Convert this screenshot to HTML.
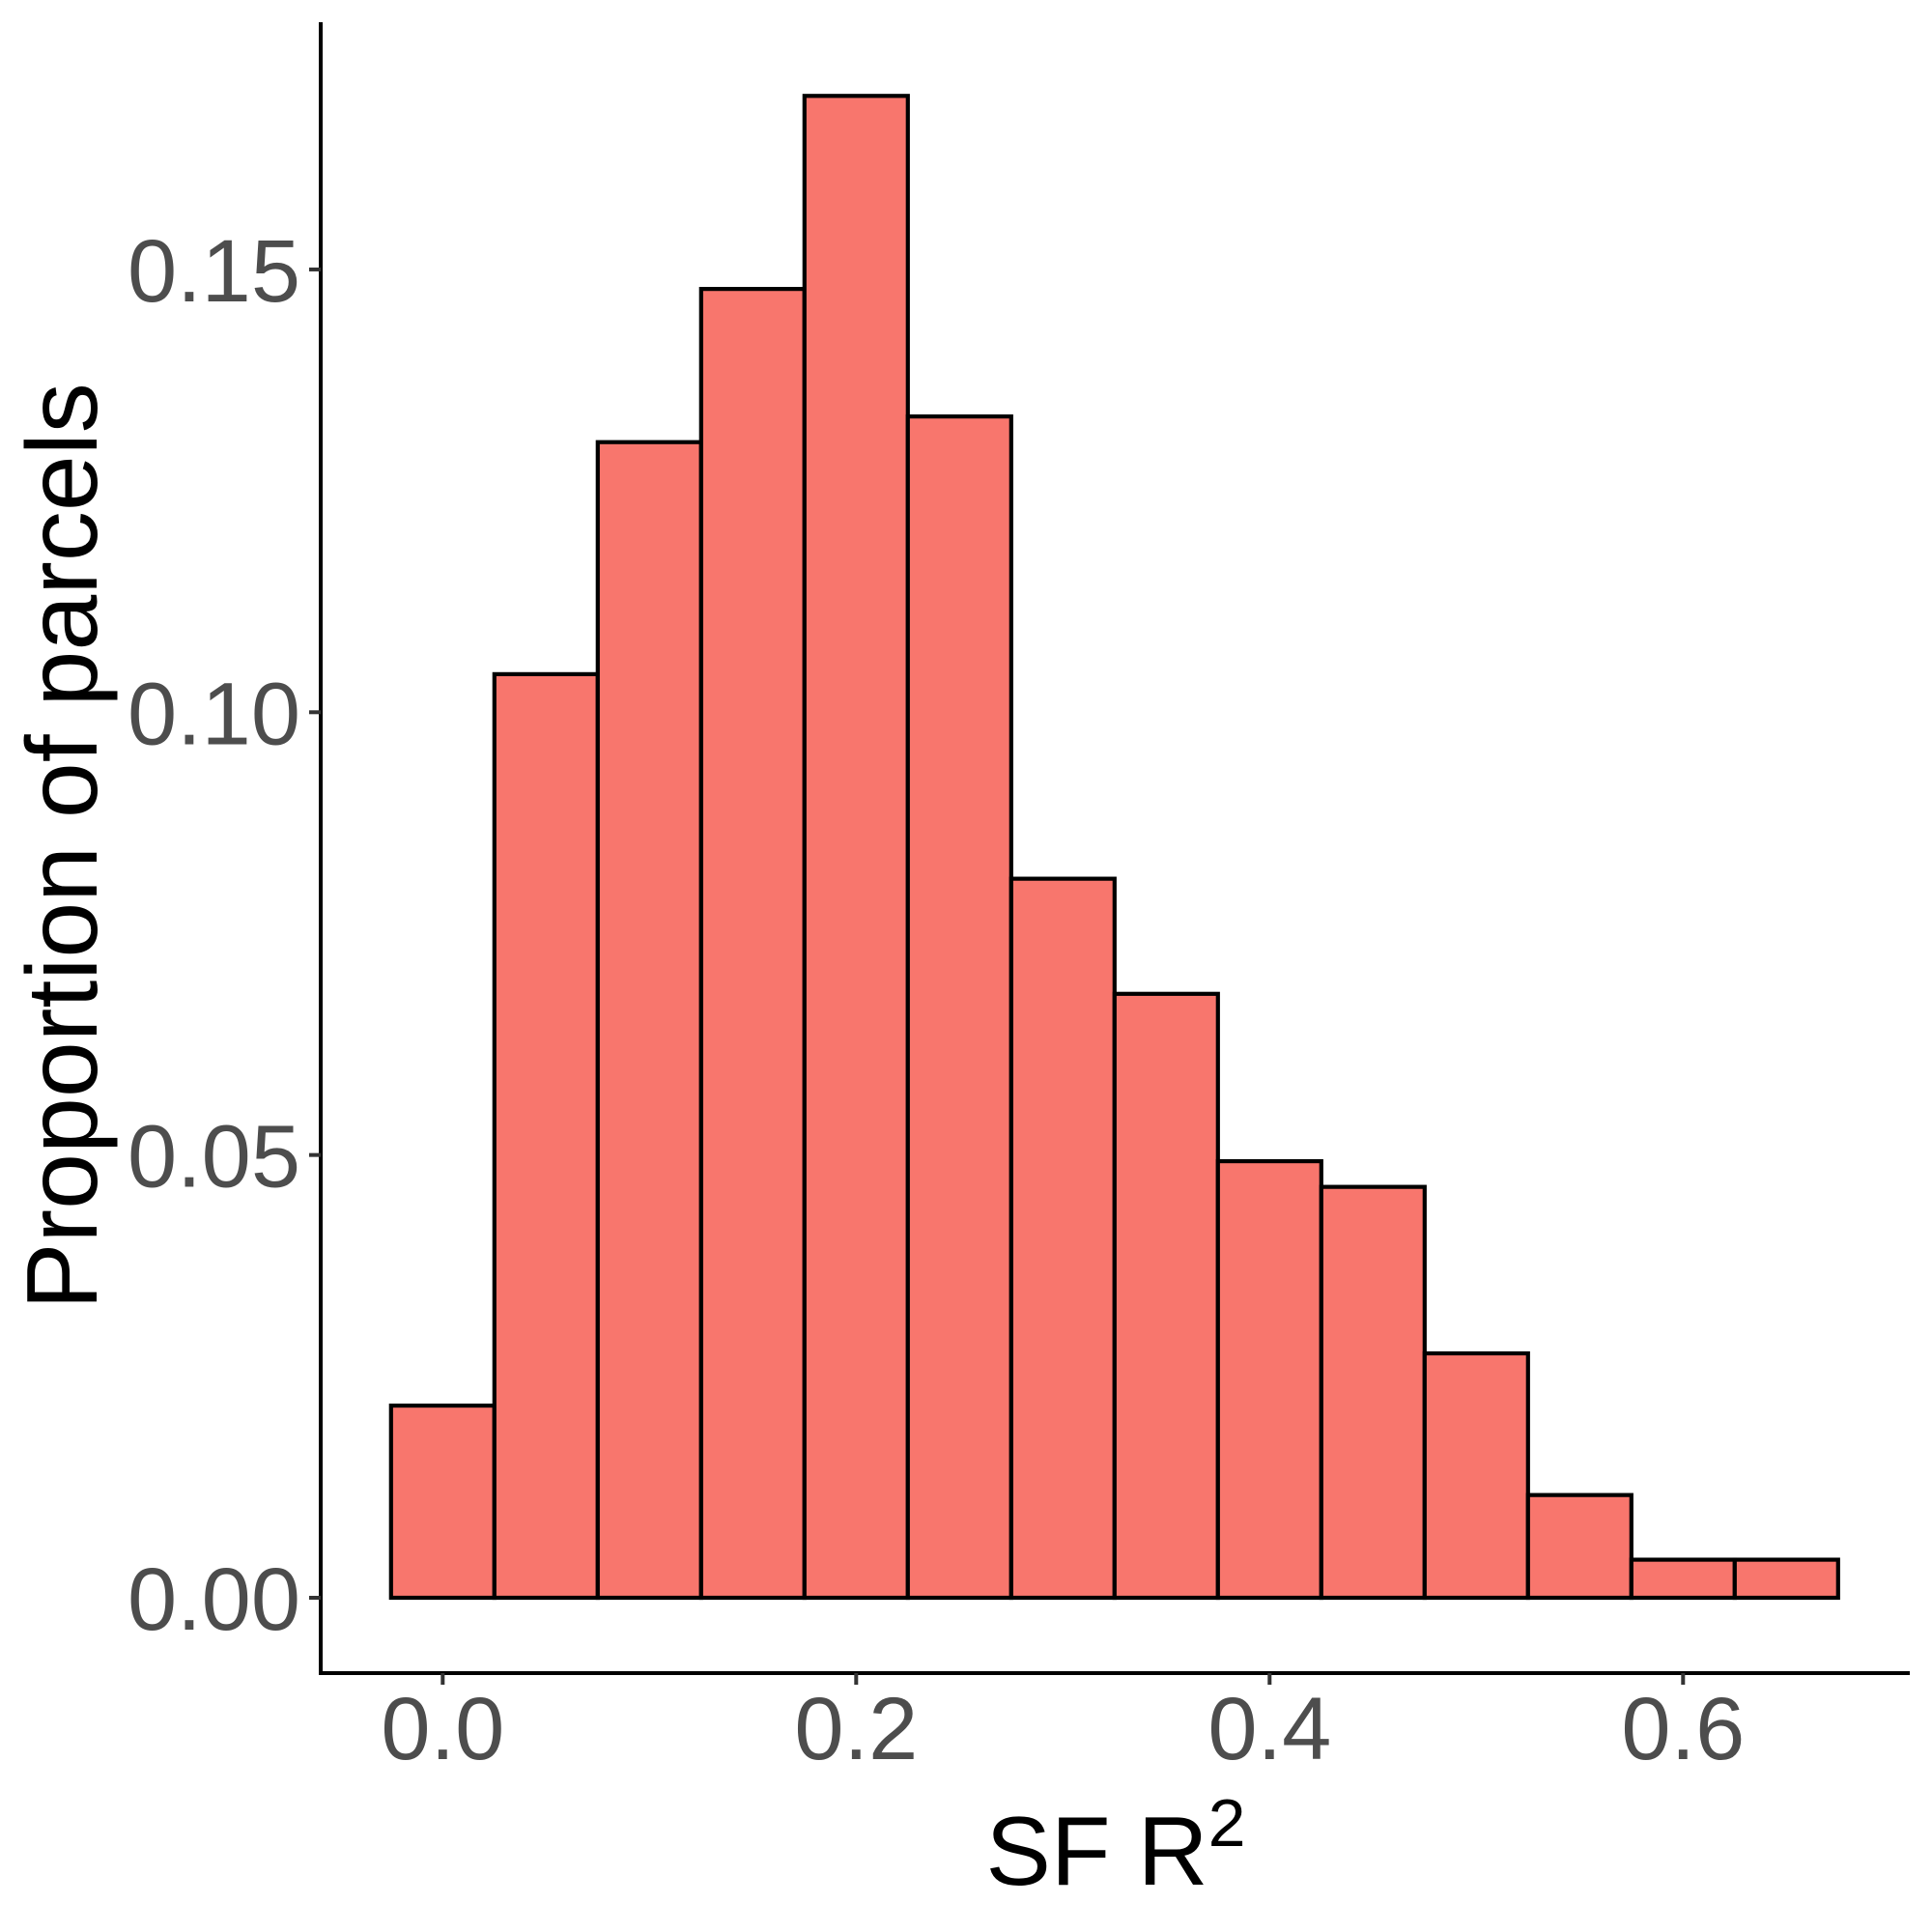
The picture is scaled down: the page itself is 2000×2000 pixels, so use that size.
<!DOCTYPE html>
<html><head><meta charset="utf-8"><style>
html,body{margin:0;padding:0;background:#fff;}
svg{display:block;font-family:"Liberation Sans",sans-serif;}
</style></head><body>
<svg id="chart" width="2000" height="2000" viewBox="0 0 2000 2000">
<g id="bars"></g>
<g id="axes"></g>
<text x="1155" y="1951" font-size="101" text-anchor="middle" fill="#000">SF R<tspan dy="-40" font-size="70">2</tspan></text>
<text transform="translate(100,876) rotate(-90)" font-size="104" text-anchor="middle" fill="#000">Proportion of parcels</text>
</svg>
<script>
const binStarts = [-0.025,0.025,0.075,0.125,0.175,0.225,0.275,0.325,0.375,0.425,0.475,0.525,0.575,0.625];
const binWidth = 0.05;
const proportions = [0.0217,0.1043,0.1305,0.1478,0.1696,0.1334,0.0812,0.0682,0.0493,0.0464,0.0276,0.0116,0.0043,0.0043];
const xTicks = [0.0,0.2,0.4,0.6];
const xTickLabels = ["0.0","0.2","0.4","0.6"];
const yTicks = [0,0.05,0.10,0.15];
const yTickLabels = ["0.00","0.05","0.10","0.15"];

const NS="http://www.w3.org/2000/svg";
function xs(v){return 458.3+v*2140;}
function ys(v){return 1654-v*9167;}
function mk(tag,attrs,parent){const e=document.createElementNS(NS,tag);for(const k in attrs)e.setAttribute(k,attrs[k]);parent.appendChild(e);return e;}
const bars=document.getElementById('bars'), axes=document.getElementById('axes');
binStarts.forEach((b,i)=>{
  const x0=xs(b), x1=xs(b+binWidth), y=ys(proportions[i]);
  const r=mk('rect',{x:x0,y:y,width:x1-x0,height:ys(0)-y,fill:'#F8766D',stroke:'#000','stroke-width':4.2},bars);
  
  
});
const ya=mk('line',{x1:332,y1:23,x2:332,y2:1734,stroke:'#000','stroke-width':4},axes);


const xa=mk('line',{x1:330,y1:1732,x2:1977,y2:1732,stroke:'#000','stroke-width':4},axes);


yTicks.forEach((v,i)=>{
  const y=ys(v);
  const t=mk('line',{x1:320,y1:y,x2:332,y2:y,stroke:'#333','stroke-width':4},axes);
  
  
  const l=mk('text',{x:311,y:y+33,'font-size':92,'text-anchor':'end',fill:'#4d4d4d'},axes);
  l.textContent=yTickLabels[i];
  
  
});
xTicks.forEach((v,i)=>{
  const x=xs(v);
  const t=mk('line',{x1:x,y1:1732,x2:x,y2:1744,stroke:'#333','stroke-width':4},axes);
  
  
  const l=mk('text',{x:x,y:1821,'font-size':92,'text-anchor':'middle',fill:'#4d4d4d'},axes);
  l.textContent=xTickLabels[i];
  
  
});
</script>
</body></html>
